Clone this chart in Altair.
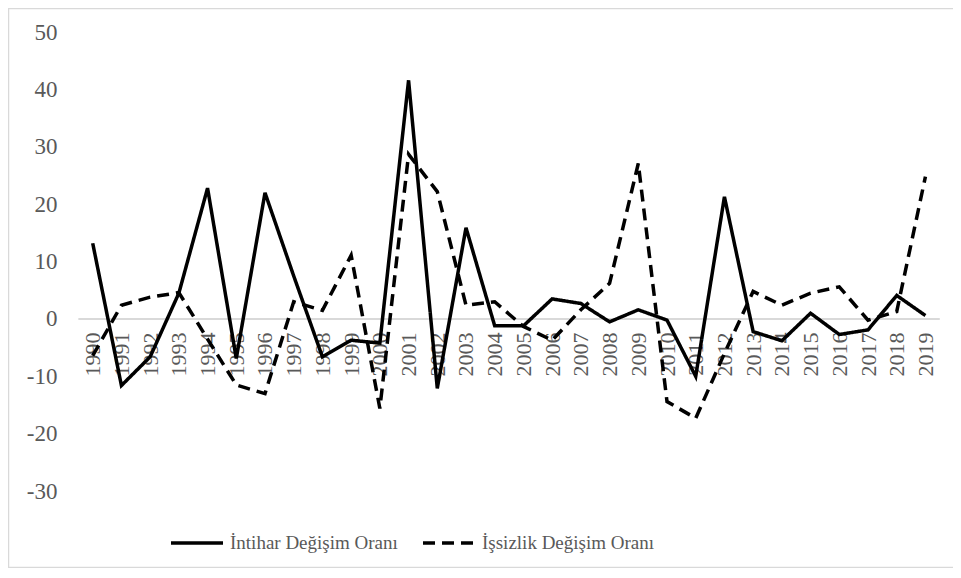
import altair as alt
import pandas as pd

years = list(range(1990, 2020))
intihar = [13.2, -11.6, -6.6, 4.5, 22.8, -6.9, 22.0, 7.5, -6.6, -3.7,
           -4.2, 41.6, -12.1, 15.9, -1.2, -1.2, 3.5, 2.7, -0.5, 1.6,
           -0.2, -10.0, 21.3, -2.2, -3.8, 1.0, -2.7, -1.9, 4.1, 0.6]
issizlik = [-6.4, 2.4, 3.8, 4.6, -3.5, -11.5, -13.0, 3.0, 1.5, 11.1,
            -15.6, 28.7, 22.2, 2.4, 3.0, -1.3, -3.7, 1.6, 6.2, 27.1,
            -14.4, -17.3, -6.0, 4.8, 2.4, 4.5, 5.6, -0.2, 1.3, 24.8]
series_names = ["İntihar Değişim Oranı", "İşsizlik Değişim Oranı"]
y_ticks = [-30, -20, -10, 0, 10, 20, 30, 40, 50]

W, H = 945, 560
FONT = "Liberation Serif"
GRAY = "#595959"
LIGHT = "#d9d9d9"

df = pd.DataFrame({
    "year": years * 2,
    "value": intihar + issizlik,
    "series": [series_names[0]] * len(years) + [series_names[1]] * len(years),
})
zero_df = pd.DataFrame({"year": [years[0] - 0.5], "year_end": [years[-1] + 0.5], "value": [0]})

x_scale = alt.Scale(domain=[1987.05, 2019.96], nice=False, zero=False)
y_scale = alt.Scale(domain=[-43.4, 54.2], nice=False, zero=False)

x_axis = alt.Axis(values=years, format="d", labelAngle=270, labelFont=FONT,
                  labelFontSize=22, labelColor=GRAY, ticks=False, tickSize=0,
                  domain=False, grid=False, labelPadding=13,
                  offset=-(H - 311), title=None, labelOverlap=False,
                  labelFlush=False)
y_axis = alt.Axis(values=y_ticks, labelFont=FONT, labelFontSize=23,
                  labelColor=GRAY, ticks=False, tickSize=0, domain=False,
                  grid=False, labelPadding=0, offset=-49, title=None,
                  labelOverlap=False, labelFlush=False,
                  labelExpr="'' + datum.value")

frame_top = alt.Chart(zero_df).mark_rule(color=LIGHT, strokeWidth=1.5).encode(
    x=alt.value(0), x2=alt.value(W), y=alt.value(0.5))
frame_left = alt.Chart(zero_df).mark_rule(color=LIGHT, strokeWidth=1.5).encode(
    x=alt.value(0.5), y=alt.value(0), y2=alt.value(H))
frame_bottom = alt.Chart(zero_df).mark_rule(color=LIGHT, strokeWidth=1.5).encode(
    x=alt.value(0), x2=alt.value(W), y=alt.value(H - 0.5))

zero_line = alt.Chart(zero_df).mark_rule(color=LIGHT, strokeWidth=2).encode(
    x=alt.X("year:Q", scale=x_scale, axis=x_axis),
    x2="year_end:Q",
    y=alt.Y("value:Q", scale=y_scale, axis=y_axis),
)

lines = alt.Chart(df).mark_line(color="black", strokeWidth=3.5, strokeJoin="miter").encode(
    x=alt.X("year:Q", scale=x_scale, axis=x_axis),
    y=alt.Y("value:Q", scale=y_scale, axis=y_axis),
    strokeDash=alt.StrokeDash(
        "series:N",
        scale=alt.Scale(domain=series_names, range=[[1, 0], [12, 7]]),
        legend=alt.Legend(orient="none", legendX=161, legendY=507, direction="horizontal",
                          title=None, labelFont=FONT, labelFontSize=19, labelColor=GRAY,
                          symbolType="stroke", symbolSize=2704, symbolStrokeWidth=3.5,
                          symbolStrokeColor="black", columnPadding=18, labelOffset=5,
                          padding=0, labelLimit=400),
    ),
    detail="series:N",
)

chart = alt.layer(frame_top, frame_left, frame_bottom, zero_line, lines).properties(
    width=W, height=H,
    autosize=alt.AutoSizeParams(type="none"),
    padding=0,
).configure_view(stroke=None).configure(background="white")

chart.save("out.html", embed_options={"renderer": "svg", "actions": False})
